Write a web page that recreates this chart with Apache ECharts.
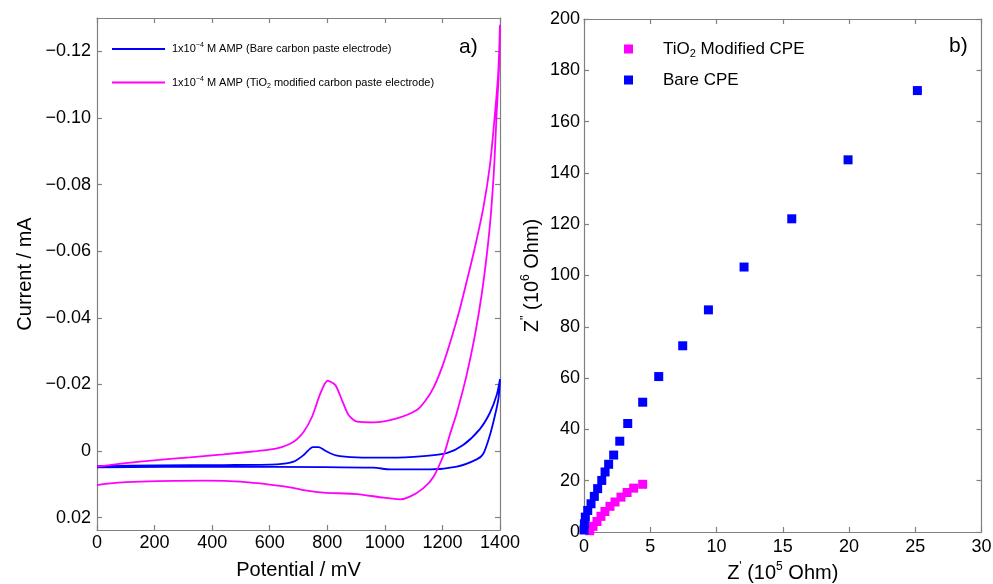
<!DOCTYPE html>
<html>
<head>
<meta charset="utf-8">
<script src="https://cdn.jsdelivr.net/npm/echarts@6/dist/echarts.min.js"></script>
<style>
  html, body { margin: 0; padding: 0; background: #fff; }
  #chart { width: 993px; height: 584px; }
</style>
</head>
<body>
<div id="chart"></div>
<script>
// Cyclic voltammograms of 1x10^-4 M AMP: potential (mV) and current (mA),
// swept out to 1400 mV and back to 0 mV.
const bareV = [0, 207, 439, 625, 683, 718, 750, 770, 795, 830, 903, 1019, 1134, 1215, 1272, 1330, 1365, 1389, 1400,
               1395, 1382, 1365, 1342, 1319, 1250, 1157, 1019, 961, 787, 439, 0];
const bareI = [0.0045, 0.0043, 0.0042, 0.0040, 0.0032, 0.0012, -0.0012, -0.0012, 0.0000, 0.0013, 0.0019, 0.0020, 0.0015, 0.0006, -0.0018, -0.0066, -0.0115, -0.0170, -0.0216,
               -0.0160, -0.0105, -0.0048, 0.0008, 0.0025, 0.0047, 0.0055, 0.0055, 0.0050, 0.0048, 0.0047, 0.0049];

const tio2V = [0, 91, 207, 323, 439, 555, 625, 683, 718, 747, 776, 801, 828, 851, 874, 903, 961, 1042, 1111, 1140, 1170, 1200, 1230, 1260, 1284, 1313, 1342, 1365, 1382, 1394, 1400,
               1396, 1388, 1380, 1368, 1354, 1336, 1313, 1284, 1249, 1226, 1207, 1169, 1133, 1087, 1052, 995, 903, 787, 729, 671, 613, 497, 381, 150, 46, 0];
const tio2I = [0.0047, 0.0037, 0.0027, 0.0019, 0.0010, 0.0000, -0.0008, -0.0028, -0.0058, -0.0103, -0.0173, -0.0211, -0.0198, -0.0153, -0.0108, -0.0088, -0.0086, -0.0098, -0.0123, -0.0150, -0.0192, -0.0255, -0.0335, -0.0425, -0.0508, -0.0612, -0.0730, -0.0858, -0.1008, -0.1138, -0.1280,
               -0.1138, -0.1008, -0.0858, -0.0708, -0.0588, -0.0468, -0.0348, -0.0228, -0.0112, -0.0050, 0.0005, 0.0077, 0.0112, 0.0137, 0.0145, 0.0140, 0.0129, 0.0125, 0.0119, 0.0109, 0.0102, 0.0092, 0.0089, 0.0092, 0.0097, 0.0102];

// Nyquist plots: Z' in 10^5 Ohm, Z'' in 10^6 Ohm
const bareZre = [0.00, 0.03, 0.10, 0.28, 0.53, 0.78, 1.03, 1.34, 1.59, 1.86, 2.24, 2.70, 3.30, 4.43, 5.64, 7.45, 9.39, 12.08, 15.68, 19.93, 25.16];
const bareZim = [0.8, 3.2, 5.8, 8.4, 11.0, 13.9, 16.9, 20.1, 23.4, 26.4, 30.0, 35.4, 42.3, 50.6, 60.6, 72.6, 86.6, 103.3, 122.1, 145.1, 172.1];
const tio2Zre = [0.43, 0.68, 0.98, 1.28, 1.58, 1.96, 2.34, 2.79, 3.25, 3.75, 4.43];
const tio2Zim = [0.5, 2.2, 4.1, 6.1, 8.0, 10.0, 11.7, 13.6, 15.4, 17.1, 18.6];

// Tick values
const currentTicks = [-0.12, -0.10, -0.08, -0.06, -0.04, -0.02, 0, 0.02];

const names = {
  bareCV: '1x10-4 M AMP (Bare carbon paste electrode)',
  tio2CV: '1x10-4 M AMP (TiO2 modified carbon paste electrode)',
  tio2EIS: 'TiO2 Modified CPE',
  bareEIS: 'Bare CPE'
};
const richNames = {
  [names.bareCV]: '1x10{sup|\u22124} M AMP (Bare carbon paste electrode)',
  [names.tio2CV]: '1x10{sup|\u22124} M AMP (TiO{sub|2} modified carbon paste electrode)',
  [names.tio2EIS]: 'TiO{sub|2} Modified CPE',
  [names.bareEIS]: 'Bare CPE'
};

const BLUE = '#0000ff';
const MAGENTA = '#ff00ff';
const FRAME = '#808080';
const FONT = '"Liberation Sans", Arial, Helvetica, sans-serif';

const pairs = (xs, ys) => xs.map((x, i) => [x, ys[i]]);
const fmtPlain = v => String(v);
const fmtCurrent = v => {
  if (Math.abs(v) < 1e-9) return '0';
  return (v < 0 ? '\u2212' : '') + Math.abs(v).toFixed(2);
};

const frameLine = { show: true, onZero: false, lineStyle: { color: FRAME, width: 1.2 } };
const tickIn = { show: true, inside: true, length: 5, lineStyle: { color: FRAME, width: 1.2 } };
const tickLabel = { color: '#000', fontSize: 18, fontFamily: FONT };

const chart = echarts.init(document.getElementById('chart'), null, { renderer: 'canvas' });

chart.setOption({
  animation: false,
  backgroundColor: '#fff',
  textStyle: { fontFamily: FONT },
  title: [
    { text: 'a)', left: 459, top: 37, padding: 0, textStyle: { fontSize: 21, fontWeight: 'normal', color: '#000', fontFamily: FONT } },
    { text: 'b)', left: 949, top: 36, padding: 0, textStyle: { fontSize: 21, fontWeight: 'normal', color: '#000', fontFamily: FONT } }
  ],
  grid: [
    { left: 97, top: 18, width: 403, height: 512, outerBoundsMode: 'none', containLabel: false },
    { left: 584, top: 19, width: 397.5, height: 513, outerBoundsMode: 'none', containLabel: false }
  ],
  legend: [
    {
      data: [names.bareCV, names.tio2CV],
      orient: 'vertical',
      left: 112, top: 42,
      icon: 'rect',
      itemWidth: 53, itemHeight: 2, itemGap: 19.5,
      padding: 0,
      formatter: n => '{gap|}' + richNames[n],
      textStyle: {
        fontSize: 11, color: '#000', lineHeight: 14, fontFamily: FONT,
        rich: {
          gap: { width: 2 },
          sup: { fontSize: 7, lineHeight: 5, verticalAlign: 'top' },
          sub: { fontSize: 7, lineHeight: 5, verticalAlign: 'bottom' }
        }
      }
    },
    {
      data: [names.tio2EIS, names.bareEIS],
      orient: 'vertical',
      left: 624, top: 39,
      icon: 'rect',
      itemWidth: 9, itemHeight: 9, itemGap: 11,
      padding: 0,
      formatter: n => '{gap|}' + richNames[n],
      textStyle: {
        fontSize: 17, color: '#000', lineHeight: 20, fontFamily: FONT,
        rich: {
          gap: { width: 25 },
          sub: { fontSize: 11, lineHeight: 8, verticalAlign: 'bottom' }
        }
      }
    }
  ],
  xAxis: [
    {
      gridIndex: 0, type: 'value', position: 'bottom',
      min: 0, max: 1400, interval: 200,
      name: 'Potential / mV', nameLocation: 'middle', nameGap: 30,
      nameTextStyle: { fontSize: 20, color: '#000', fontFamily: FONT },
      axisLine: frameLine, axisTick: tickIn,
      axisLabel: Object.assign({ margin: 4, formatter: fmtPlain }, tickLabel),
      splitLine: { show: false }
    },
    {
      gridIndex: 0, type: 'value', position: 'top',
      min: 0, max: 1400, interval: 200,
      axisLine: frameLine, axisTick: tickIn, axisLabel: { show: false },
      splitLine: { show: false }
    },
    {
      gridIndex: 1, type: 'value', position: 'bottom',
      min: 0, max: 30, interval: 5,
      name: "Z{sup|'} (10{sup|5} Ohm)", nameLocation: 'middle', nameGap: 29,
      nameTextStyle: {
        fontSize: 20, color: '#000', lineHeight: 24, fontFamily: FONT,
        rich: { sup: { fontSize: 12, lineHeight: 10, verticalAlign: 'top' } }
      },
      axisLine: frameLine, axisTick: tickIn,
      axisLabel: Object.assign({ margin: 6, formatter: fmtPlain }, tickLabel),
      splitLine: { show: false }
    },
    {
      gridIndex: 1, type: 'value', position: 'top',
      min: 0, max: 30, interval: 5,
      axisLine: frameLine, axisTick: tickIn, axisLabel: { show: false },
      splitLine: { show: false }
    }
  ],
  yAxis: [
    {
      gridIndex: 0, type: 'value', position: 'left', inverse: true,
      min: -0.13, max: 0.0237,
      name: 'Current / mA', nameLocation: 'middle', nameGap: 62,
      nameTextStyle: { fontSize: 20, color: '#000', fontFamily: FONT },
      axisLine: frameLine,
      axisTick: Object.assign({ customValues: currentTicks }, tickIn),
      axisLabel: Object.assign({ margin: 6, customValues: currentTicks, formatter: fmtCurrent }, tickLabel),
      splitLine: { show: false }
    },
    {
      gridIndex: 0, type: 'value', position: 'right', inverse: true,
      min: -0.13, max: 0.0237,
      axisLine: frameLine,
      axisTick: Object.assign({ customValues: currentTicks }, tickIn),
      axisLabel: { show: false },
      splitLine: { show: false }
    },
    {
      gridIndex: 1, type: 'value', position: 'left',
      min: 0, max: 200, interval: 20,
      name: "Z{sup|''} (10{sup|6} Ohm)", nameLocation: 'middle', nameGap: 40,
      nameTextStyle: {
        fontSize: 20, color: '#000', lineHeight: 24, fontFamily: FONT,
        rich: { sup: { fontSize: 12, lineHeight: 10, verticalAlign: 'top' } }
      },
      axisLine: frameLine, axisTick: tickIn,
      axisLabel: Object.assign({ margin: 4, formatter: fmtPlain }, tickLabel),
      splitLine: { show: false }
    },
    {
      gridIndex: 1, type: 'value', position: 'right',
      min: 0, max: 200, interval: 20,
      axisLine: frameLine, axisTick: tickIn, axisLabel: { show: false },
      splitLine: { show: false }
    }
  ],
  series: [
    {
      name: names.bareCV, type: 'line', xAxisIndex: 0, yAxisIndex: 0,
      data: pairs(bareV, bareI), smooth: 0.25, symbol: 'none',
      lineStyle: { color: BLUE, width: 1.8 }, itemStyle: { color: BLUE }
    },
    {
      name: names.tio2CV, type: 'line', xAxisIndex: 0, yAxisIndex: 0,
      data: pairs(tio2V, tio2I), smooth: 0.25, symbol: 'none',
      lineStyle: { color: MAGENTA, width: 1.8 }, itemStyle: { color: MAGENTA }
    },
    {
      name: names.tio2EIS, type: 'scatter', xAxisIndex: 2, yAxisIndex: 2,
      data: pairs(tio2Zre, tio2Zim), symbol: 'rect', symbolSize: 9, clip: false,
      itemStyle: { color: MAGENTA, opacity: 1 }
    },
    {
      name: names.bareEIS, type: 'scatter', xAxisIndex: 2, yAxisIndex: 2,
      data: pairs(bareZre, bareZim), symbol: 'rect', symbolSize: 9, clip: false,
      itemStyle: { color: BLUE, opacity: 1 }
    }
  ]
});
</script>
</body>
</html>
